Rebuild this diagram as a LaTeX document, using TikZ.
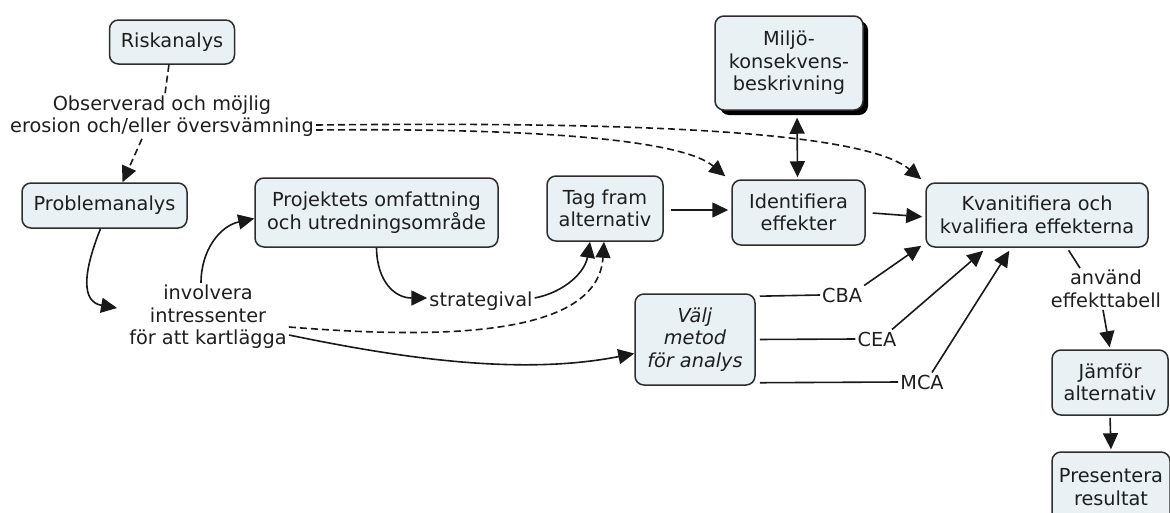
\documentclass[tikz,border=0pt]{standalone}
\usepackage{fontspec}
\setmainfont{DejaVu Sans}
\usetikzlibrary{arrows.meta,shadows}
\definecolor{boxfill}{RGB}{233,241,245}
\definecolor{boxline}{RGB}{45,45,45}
\definecolor{lineclr}{RGB}{25,25,25}
\definecolor{txt}{RGB}{30,30,30}
\begin{document}
\begin{tikzpicture}[x=1pt,y=-1pt,
  font=\fontsize{19.3}{22.5}\selectfont,
  box/.style={draw=boxline,fill=boxfill,line width=1.5pt,rounded corners=9pt,align=center,inner sep=0pt,text=txt},
  lbl/.style={align=center,inner sep=2pt,text=txt},
  link/.style={line width=1.6pt,draw=lineclr},
  conn/.style={link,-{Triangle[length=16pt,width=15pt]}},
  both/.style={link,{Triangle[length=16pt,width=15pt]}-{Triangle[length=16pt,width=15pt]}},
  dsh/.style={dash pattern=on 7pt off 4pt}]
\useasboundingbox (0,0) rectangle (1170,512);
\clip (0,0) rectangle (1170,512);

% boxes
\node[box,minimum width=125pt,minimum height=44pt] (risk) at (172,42) {Riskanalys};
\node[box,minimum width=165pt,minimum height=45pt] (prob) at (104.5,205.5) {Problemanalys};
\node[box,minimum width=243pt,minimum height=69pt] (proj) at (376.5,212.5) {Projektets omfattning\\och utredningsområde};
\node[box,minimum width=116pt,minimum height=65pt] (tag) at (605,208.5) {Tag fram\\alternativ};
\node[box,minimum width=133pt,minimum height=65pt] (ident) at (798.5,212.5) {Identifiera\\effekter};
\node[box,minimum width=148pt,minimum height=94pt,drop shadow={shadow xshift=5pt,shadow yshift=-5pt,fill=black,opacity=1}] (milj) at (789,63) {Miljö-\\konsekvens-\\beskrivning};
\node[box,minimum width=222pt,minimum height=64pt] (kvan) at (1037,215) {Kvanitifiera och\\kvalifiera effekterna};
\node[box,minimum width=120pt,minimum height=91pt,font=\fontsize{19.3}{22.5}\selectfont\itshape] (valj) at (695,339.5) {Välj\\metod\\för analys};
\node[box,minimum width=116pt,minimum height=65pt] (jamf) at (1110,382.5) {Jämför\\alternativ};
\node[box,minimum width=118pt,minimum height=70pt] (pres) at (1111,487) {Presentera\\resultat};

% free labels
\node[lbl] (obs) at (162,116) {Observerad och möjlig\\erosion och/eller översvämning};
\node[lbl] (inv) at (208,317) {involvera\\intressenter\\för att kartlägga};
\node[lbl] (strat) at (481,301) {strategival};
\node[lbl] (cba) at (842,295) {CBA};
\node[lbl] (cea) at (877,339) {CEA};
\node[lbl] (mca) at (922,382) {MCA};
\node[lbl] (anv) at (1106,289) {använd\\effekttabell};

% connectors
\draw[link,dsh] (risk) -- (obs);
\draw[conn,dsh] ([xshift=-20pt]obs.south) -- ([xshift=18pt]prob.north);
\draw[conn,dsh] ([yshift=-9pt]obs.east) .. controls (600,122) and (860,128) .. ([xshift=-4pt,yshift=3pt]kvan.north west);
\draw[conn,dsh] ([yshift=-14pt]obs.east) .. controls (520,128) and (680,138) .. ([xshift=-6pt,yshift=3pt]ident.north west);

\draw[conn] ([xshift=-4pt]prob.south) .. controls (82,275) and (82,302) .. ([xshift=-10pt,yshift=9pt]inv.west);
\draw[conn] ([xshift=-7pt]inv.north) .. controls (201,250) and (220,226) .. ([yshift=-6pt]proj.west);
\draw[conn] (proj.south) .. controls (377,282) and (395,298) .. ([yshift=3pt]strat.west);
\draw[conn] ([yshift=3pt]strat.east) .. controls (565,292) and (585,272) .. ([xshift=-15pt]tag.south);
\draw[conn,dsh] ([yshift=-10pt]inv.east) .. controls (450,340) and (598,335) .. ([xshift=-1pt]tag.south);
\draw[conn] ([yshift=-18pt]inv.east) .. controls (400,358) and (520,376) .. ([yshift=-14pt]valj.west);

\draw[conn,shorten <=7pt,shorten >=3pt] ([yshift=-1.5pt]tag.east) -- ([yshift=2.5pt]ident.west);
\draw[conn,shorten <=7pt,shorten >=3pt] ([yshift=0pt]ident.east) -- ([yshift=-2pt]kvan.west);
\draw[both,shorten <=7pt,shorten >=2pt] ([xshift=8pt]milj.south) -- ([xshift=-1pt]ident.north);

\draw[link,shorten <=4pt] ([yshift=-3pt]valj.north east) -- (cba.west);
\draw[conn] (cba.north east) -- ([xshift=-4pt,yshift=2pt]kvan.south west);
\draw[link,shorten <=4pt] (valj.east) -- (cea.west);
\draw[conn] ([xshift=15pt]cea.north) -- ([xshift=58pt,yshift=-3pt]kvan.south west);
\draw[link,shorten <=4pt] ([yshift=3pt]valj.south east) -- (mca.west);
\draw[conn] ([xshift=10pt]mca.north) -- ([xshift=84pt,yshift=-3pt]kvan.south west);

\draw[link,shorten <=3pt] ([xshift=30pt]kvan.south) -- ([xshift=-26pt]anv.north);
\draw[conn,shorten >=2pt] ([xshift=-3pt]anv.south) -- (jamf.north);
\draw[conn,shorten <=2pt,shorten >=2pt] (jamf.south) -- (pres.north);
\end{tikzpicture}
\end{document}
